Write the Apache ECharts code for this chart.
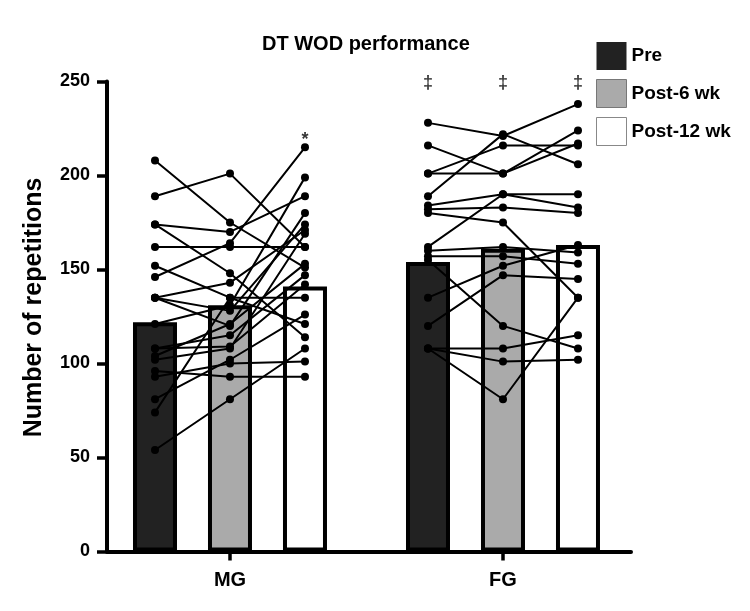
<!DOCTYPE html>
<html>
<head>
<meta charset="utf-8">
<script src="https://cdn.jsdelivr.net/npm/echarts@6/dist/echarts.min.js"></script>
<style>html,body{margin:0;padding:0;background:#fff;}#c{width:750px;height:611px;}</style>
</head>
<body>
<div id="c"></div>
<script>
// ---- data ----
const categories = ['MG', 'FG'];
const timepoints = ['Pre', 'Post-6 wk', 'Post-12 wk'];
const meanPre = [122, 154];
const meanPost6 = [131, 161];
const meanPost12 = [141, 163];
const yTicks = [0, 50, 100, 150, 200, 250];
// individual subjects, MG
const mgPre    = [208, 189, 174, 174, 162, 152, 146, 135, 135, 135, 121, 108, 108, 104, 102, 96, 93, 81, 74, 54];
const mgPost6  = [175, 201, 170, 148, 162, 135, 164, 143, 120, 128, 131, 115, 109, 121, 108, 93, 100, 102, 135, 81];
const mgPost12 = [151, 162, 189, 114, 162, 135, 215, 171, 180, 174, 199, 147, 142, 153, 169, 93, 101, 126, 121, 108];
// individual subjects, FG
const fgPre    = [228, 216, 201, 201, 189, 184, 182, 180, 162, 160, 157, 135, 120, 108, 108, 108, 155];
const fgPost6  = [221, 201, 216, 201, 222, 190, 183, 175, 190, 162, 157, 152, 147, 108, 101, 81, 120];
const fgPost12 = [238, 217, 216, 224, 206, 190, 180, 135, 183, 159, 153, 163, 145, 115, 102, 135, 108];
// significance markers: [category index, timepoint index, symbol, value level]
const markers = [[0, 2, '*', 219], [1, 0, '\u2021', 249], [1, 1, '\u2021', 249], [1, 2, '\u2021', 249]];

// ---- layout helpers ----
const FONT = 'Liberation Sans, Arial, sans-serif';
const OFF = 0.2747; // spacing between bars within a group (axis units)
function xPos(g, t) { return g + (t - 1) * OFF; }

const barColors = ['#222222', '#aaaaaa', '#ffffff'];
const means = [meanPre, meanPost6, meanPost12];

const series = [];
timepoints.forEach((tp, t) => {
  series.push({
    name: tp, type: 'bar', barWidth: 44, barGap: '-100%', z: 2,
    itemStyle: { color: barColors[t], borderColor: '#000', borderWidth: 4 },
    data: categories.map((c, g) => [xPos(g, t), means[t][g]])
  });
});
function addSubjects(g, pre, p6, p12) {
  pre.forEach((v, i) => {
    series.push({
      type: 'line', z: 5, silent: true,
      symbol: 'circle', symbolSize: 8,
      itemStyle: { color: '#000' },
      lineStyle: { color: '#000', width: 2 },
      data: [[xPos(g, 0), v], [xPos(g, 1), p6[i]], [xPos(g, 2), p12[i]]]
    });
  });
}
addSubjects(0, mgPre, mgPost6, mgPost12);
addSubjects(1, fgPre, fgPost6, fgPost12);
series.push({
  type: 'scatter', z: 6, symbolSize: 0, silent: true,
  label: { show: true, position: 'inside', formatter: p => p.value[2],
           fontFamily: FONT, fontWeight: 'bold', fontSize: 18, color: '#000' },
  data: markers.map(m => [xPos(m[0], m[1]), m[3], m[2]])
});

const chart = echarts.init(document.getElementById('c'), null, { renderer: 'canvas' });
chart.setOption({
  animation: false,
  backgroundColor: '#fff',
  title: {
    text: 'DT WOD performance', left: 257, top: 29,
    textStyle: { fontFamily: FONT, fontWeight: 'bold', fontSize: 20, color: '#000' }
  },
  legend: {
    orient: 'vertical', left: 596, top: 42, itemWidth: 30, itemHeight: 28, itemGap: 9,
    padding: 0, selectedMode: false, icon: 'rect',
    textStyle: { fontFamily: FONT, fontWeight: 'bold', fontSize: 19, color: '#000' },
    data: [
      { name: 'Pre', itemStyle: { color: '#222', borderWidth: 0 } },
      { name: 'Post-6 wk', itemStyle: { color: '#aaa', borderColor: '#777', borderWidth: 1 } },
      { name: 'Post-12 wk', itemStyle: { color: '#fff', borderColor: '#888', borderWidth: 1 } }
    ]
  },
  grid: { left: 107, right: 119, top: 81.5, bottom: 59.5, containLabel: false },
  xAxis: {
    type: 'value', min: -0.4505, max: 1.4689,
    splitLine: { show: false },
    axisLine: { show: true, onZero: false, lineStyle: { color: '#000', width: 4 } },
    axisTick: { show: true, customValues: [0, 1], length: 9, lineStyle: { color: '#000', width: 3.5 } },
    axisLabel: {
      customValues: [0, 1], margin: 19,
      formatter: v => categories[Math.round(v)],
      fontFamily: FONT, fontWeight: 'bold', fontSize: 20, color: '#000'
    }
  },
  yAxis: {
    type: 'value', min: 0, max: 250, interval: 50,
    name: 'Number of repetitions', nameLocation: 'middle', nameGap: 60,
    nameTextStyle: { fontFamily: FONT, fontWeight: 'bold', fontSize: 25, color: '#000', padding: [0, 0, 0, 18] },
    splitLine: { show: false },
    axisLine: { show: true, onZero: false, lineStyle: { color: '#000', width: 4 } },
    axisTick: { show: true, length: 10, lineStyle: { color: '#000', width: 3.5 } },
    axisLabel: {
      margin: 17, formatter: v => (yTicks.indexOf(v) >= 0 ? String(v) : ''),
      fontFamily: FONT, fontWeight: 'bold', fontSize: 18, color: '#000'
    }
  },
  series: series
});
</script>
</body>
</html>
